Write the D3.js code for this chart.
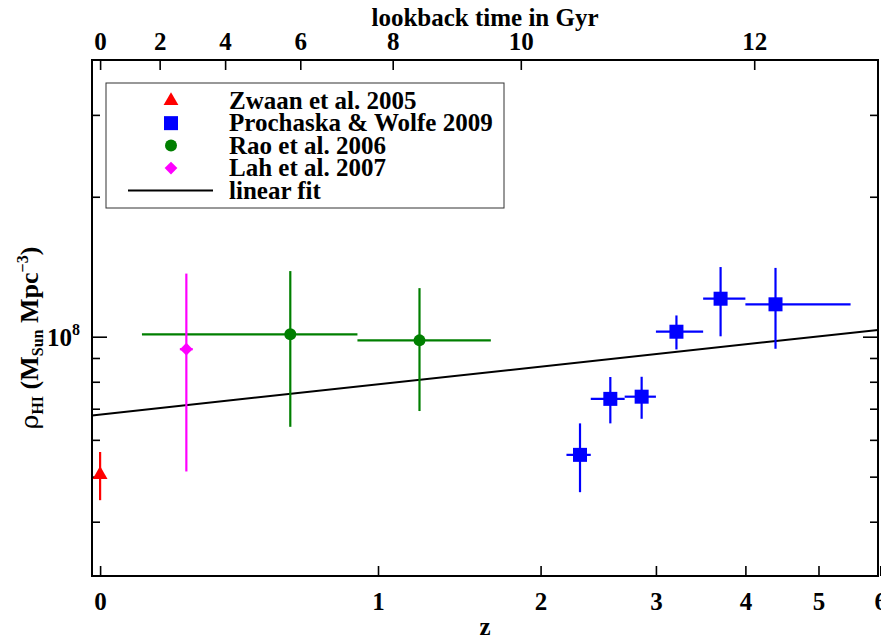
<!DOCTYPE html>
<html>
<head>
<meta charset="utf-8">
<script src="https://cdn.jsdelivr.net/npm/d3@7"></script>
<style>
  body { margin: 0; background: #fff; }
  svg text { font-family: "Liberation Serif", "Times New Roman", serif; font-weight: bold; }
</style>
</head>
<body>
<div class="chart"></div>
<script>
// --- data ---
// Zwaan et al. 2005
const zwZ = [0];
const zwRho = [5.05e7];
const zwErr = [0.6e7];

// Prochaska & Wolfe 2009
const pwZ = [2.31, 2.57, 2.86, 3.21, 3.70, 4.39];
const pwZLo = [2.2, 2.4, 2.7, 3.0, 3.5, 4.0];
const pwZHi = [2.4, 2.7, 3.0, 3.5, 4.0, 5.5];
const pwRho = [0.557e8, 0.735e8, 0.743e8, 1.025e8, 1.207e8, 1.174e8];
const pwErr = [0.094e8, 0.084e8, 0.077e8, 0.086e8, 0.205e8, 0.232e8];

// Rao et al. 2006
const raoZ = [0.607, 1.218];
const raoZLo = [0.11, 0.90];
const raoZHi = [0.90, 1.65];
const raoRho = [1.012e8, 0.982e8];
const raoErr = [0.372e8, 0.29e8];

// Lah et al. 2007
const lahZ = [0.24];
const lahZLo = [0.22];
const lahZHi = [0.26];
const lahRho = [0.94e8];
const lahErr = [0.427e8];

// linear fit in log-log: rho = fitNorm * (1+z)^fitSlope
const fitNorm = 6.8e7;
const fitSlope = 0.216;

// axes
const zTicks = [0, 1, 2, 3, 4, 5, 6];
const lookbackTicks = [0, 2, 4, 6, 8, 10, 12];
const yMajorTicks = [1e8];
const yMinorTicks = [4e7, 5e7, 6e7, 7e7, 8e7, 9e7, 2e8, 3e8];

const legendLabels = ["Zwaan et al. 2005", "Prochaska & Wolfe 2009", "Rao et al. 2006", "Lah et al. 2007", "linear fit"];

// cosmology used for the lookback-time axis
const H0 = 70, Om = 0.3, OL = 0.7;

function lookbackGyr(z) {
    const tH = 977.8 / H0;
    const n = 200, h = z / n;
    const f = x => 1 / ((1 + x) * Math.sqrt(Om * Math.pow(1 + x, 3) + OL));
    let s = f(0) + f(z);
    for (let i = 1; i < n; i++) s += (i % 2 ? 4 : 2) * f(i * h);
    return tH * s * h / 3;
}
function zForLookback(t) {
    let lo = 0, hi = 30;
    for (let i = 0; i < 60; i++) {
        const mid = (lo + hi) / 2;
        if (lookbackGyr(mid) < t) lo = mid; else hi = mid;
    }
    return (lo + hi) / 2;
}

// --- layout ---
const W = 881, H = 637;
const frame = { left: 92, right: 878, top: 60, bottom: 576 };
const fs = 25;

const svg = d3.select(".chart").append("svg")
    .attr("width", W).attr("height", H);

// x: log(1+z), y: log rho
const x = d3.scaleLog().domain([0.98, 6.96]).range([frame.left, frame.right]);
const X = z => x(1 + z);
const y = d3.scaleLog().domain([3.057e7, 3.937e8]).range([frame.bottom, frame.top]);

// bottom axis (z)
svg.append("g")
    .attr("transform", `translate(0,${frame.bottom})`)
    .call(d3.axisBottom(x)
        .tickValues(zTicks.map(z => 1 + z))
        .tickFormat((d, i) => zTicks[i])
        .tickSize(-10).tickSizeOuter(0).tickPadding(16));

// top axis (lookback time)
svg.append("g")
    .attr("transform", `translate(0,${frame.top})`)
    .call(d3.axisTop(x)
        .tickValues(lookbackTicks.map(t => 1 + zForLookback(t)))
        .tickFormat((d, i) => lookbackTicks[i])
        .tickSize(-10).tickSizeOuter(0).tickPadding(10));

// left/right axes
function yAxes(g, axisFn, size, values) {
    g.call(axisFn(y).tickValues(values).tickFormat("").tickSize(-size).tickSizeOuter(0));
}
svg.append("g").attr("transform", `translate(${frame.left},0)`).call(g => yAxes(g, d3.axisLeft, 15, yMajorTicks));
svg.append("g").attr("transform", `translate(${frame.left},0)`).call(g => yAxes(g, d3.axisLeft, 8, yMinorTicks));
svg.append("g").attr("transform", `translate(${frame.right},0)`).call(g => yAxes(g, d3.axisRight, 15, yMajorTicks));
svg.append("g").attr("transform", `translate(${frame.right},0)`).call(g => yAxes(g, d3.axisRight, 8, yMinorTicks));

svg.selectAll(".domain").remove();
svg.selectAll(".tick line").attr("stroke", "#000").attr("stroke-width", 1.6);
svg.selectAll(".tick text").attr("font-size", fs).attr("fill", "#000")
    .style("font-family", "'Liberation Serif', serif").style("font-weight", "bold");

// 10^8 label
yMajorTicks.forEach(v => {
    const t = svg.append("text")
        .attr("x", frame.left - 12).attr("y", y(v) + 9)
        .attr("text-anchor", "end").attr("font-size", fs);
    t.append("tspan").text("10");
    t.append("tspan").attr("font-size", 16).attr("dy", -11).text(Math.round(Math.log10(v)));
});

// frame
svg.append("rect")
    .attr("x", frame.left).attr("y", frame.top)
    .attr("width", frame.right - frame.left).attr("height", frame.bottom - frame.top)
    .attr("fill", "none").attr("stroke", "#000").attr("stroke-width", 2);

// axis titles
const cx = (frame.left + frame.right) / 2;
svg.append("text").attr("x", cx).attr("y", 26).attr("text-anchor", "middle")
    .attr("font-size", fs).text("lookback time in Gyr");
svg.append("text").attr("x", cx).attr("y", 635).attr("text-anchor", "middle")
    .attr("font-size", fs).text("z");

const yl = svg.append("text")
    .attr("transform", `translate(38,${(frame.top + frame.bottom) / 2 + 20}) rotate(-90)`)
    .attr("text-anchor", "middle").attr("font-size", 26);
yl.append("tspan").style("font-weight", "normal").style("font-family", "'DejaVu Serif', serif").attr("font-size", 25).text("ρ");
yl.append("tspan").attr("font-size", 16).attr("dy", 5).text("HI");
yl.append("tspan").attr("dy", -5).text(" (M");
yl.append("tspan").attr("font-size", 16).attr("dy", 5).text("Sun");
yl.append("tspan").attr("dy", -5).text(" Mpc");
yl.append("tspan").attr("font-size", 16).attr("dy", -10).text("−3");
yl.append("tspan").attr("dy", 10).text(")");

// fit line
const fit = z => fitNorm * Math.pow(1 + z, fitSlope);
const zEnds = [x.domain()[0] - 1, x.domain()[1] - 1];
svg.append("line")
    .attr("x1", X(zEnds[0])).attr("y1", y(fit(zEnds[0])))
    .attr("x2", X(zEnds[1])).attr("y2", y(fit(zEnds[1])))
    .attr("stroke", "#000").attr("stroke-width", 2);

// data series
const series = [
    { z: zwZ, zlo: null, zhi: null, rho: zwRho, err: zwErr, color: "#ff0000", shape: "triangle" },
    { z: pwZ, zlo: pwZLo, zhi: pwZHi, rho: pwRho, err: pwErr, color: "#0000ff", shape: "square" },
    { z: raoZ, zlo: raoZLo, zhi: raoZHi, rho: raoRho, err: raoErr, color: "#007f00", shape: "circle" },
    { z: lahZ, zlo: lahZLo, zhi: lahZHi, rho: lahRho, err: lahErr, color: "#ff00ff", shape: "diamond" }
];

function marker(g, shape, color) {
    if (shape === "triangle") {
        g.append("path").attr("d", d3.symbol(d3.symbolTriangle, 95)()).attr("fill", color);
    } else if (shape === "square") {
        g.append("rect").attr("x", -7).attr("y", -7).attr("width", 14).attr("height", 14).attr("fill", color);
    } else if (shape === "circle") {
        g.append("circle").attr("r", 6).attr("fill", color);
    } else {
        g.append("rect").attr("x", -4.5).attr("y", -4.5).attr("width", 9).attr("height", 9)
            .attr("transform", "rotate(45)").attr("fill", color);
    }
}

series.forEach(s => {
    const pts = s.z.map((z, i) => ({ z, i }));
    const g = svg.append("g");
    // vertical error bars
    g.selectAll(".ey").data(pts).enter().append("line")
        .attr("x1", d => X(d.z)).attr("x2", d => X(d.z))
        .attr("y1", d => y(s.rho[d.i] + s.err[d.i]))
        .attr("y2", d => y(s.rho[d.i] - s.err[d.i]))
        .attr("stroke", s.color).attr("stroke-width", 2.2);
    // horizontal error bars
    if (s.zlo) {
        g.selectAll(".ex").data(pts).enter().append("line")
            .attr("x1", d => X(s.zlo[d.i])).attr("x2", d => X(s.zhi[d.i]))
            .attr("y1", d => y(s.rho[d.i])).attr("y2", d => y(s.rho[d.i]))
            .attr("stroke", s.color).attr("stroke-width", 2.2);
    }
    g.selectAll(".pt").data(pts).enter().append("g")
        .attr("transform", d => `translate(${X(d.z)},${y(s.rho[d.i])})`)
        .each(function () { marker(d3.select(this), s.shape, s.color); });
});

// legend
const lg = svg.append("g");
lg.append("rect").attr("x", 106).attr("y", 83).attr("width", 398).attr("height", 125)
    .attr("fill", "#fff").attr("stroke", "#333").attr("stroke-width", 1);
const rowY = d3.scaleLinear().domain([0, 4]).range([100.7, 190.5]);
legendLabels.forEach((lab, i) => {
    const ry = rowY(i);
    if (i < series.length) {
        const m = lg.append("g").attr("transform", `translate(171,${ry})`);
        marker(m, series[i].shape, series[i].color);
    } else {
        lg.append("line").attr("x1", 128).attr("x2", 213).attr("y1", ry).attr("y2", ry)
            .attr("stroke", "#000").attr("stroke-width", 2);
    }
    lg.append("text").attr("x", 229).attr("y", ry + 8).attr("font-size", fs).text(lab);
});
</script>
</body>
</html>
